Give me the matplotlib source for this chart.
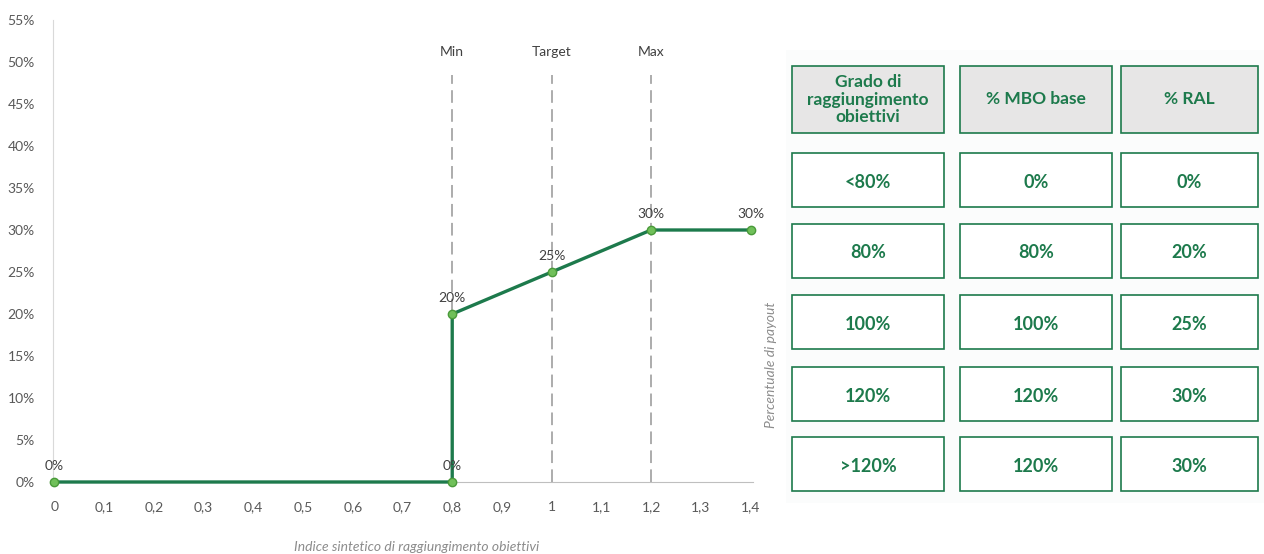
import matplotlib
matplotlib.use("Agg")
import matplotlib.pyplot as plt
from matplotlib.patches import Rectangle
from matplotlib.ticker import FuncFormatter, MultipleLocator

plt.rcParams['font.family'] = ['Lato', 'DejaVu Sans']

# dati della curva di payout
x_vals = [0, 0.8, 0.8, 1.0, 1.2, 1.4]
y_vals = [0, 0, 0.20, 0.25, 0.30, 0.30]
point_labels = ['0%', '0%', '20%', '25%', '30%', '30%']

ref_x = [0.8, 1.0, 1.2]
ref_labels = ['Min', 'Target', 'Max']

# tabella a destra
header = ['Grado di\nraggiungimento\nobiettivi', '% MBO base', '% RAL']
col_grado = ['<80%', '80%', '100%', '120%', '>120%']
col_mbo = ['0%', '80%', '100%', '120%', '120%']
col_ral = ['0%', '20%', '25%', '30%', '30%']

verde = '#1d7a4c'
verde_chiaro = '#70c05a'
grigio = '#595959'

W, H = 1264, 554
fig = plt.figure(figsize=(W / 100, H / 100), dpi=100)

ax = fig.add_axes([53 / W, 1 - 482 / H, 700 / W, 462 / H])
ax.set_xlim(-0.003, 1.405)
ax.set_ylim(0, 0.55)

for xr, lab in zip(ref_x, ref_labels):
    ax.plot([xr, xr], [0, 0.485], color='#a6a6a6', lw=1.3, ls=(0, (7, 3.5)), zorder=1)
    ax.text(xr, 0.512, lab, ha='center', va='center', fontsize=10, color='#404040')

ax.plot(x_vals, y_vals, color=verde, lw=2.4, marker='o', ms=6,
        mfc=verde_chiaro, mec='#4a9a3a', mew=1, zorder=3, clip_on=False)
for xv, yv, lab in zip(x_vals, y_vals, point_labels):
    ax.annotate(lab, (xv, yv), xytext=(0, 7), textcoords='offset points',
                ha='center', va='bottom', fontsize=10, color='#404040')

ax.xaxis.set_major_locator(MultipleLocator(0.1))
ax.yaxis.set_major_locator(MultipleLocator(0.05))
ax.xaxis.set_major_formatter(FuncFormatter(lambda v, p: ('%g' % round(v, 1)).replace('.', ',')))
ax.yaxis.set_major_formatter(FuncFormatter(lambda v, p: '%d%%' % round(v * 100)))
ax.tick_params(length=0, labelsize=10, labelcolor=grigio)
ax.tick_params(axis='x', pad=14)
ax.tick_params(axis='y', pad=13)
for s in ['top', 'right']:
    ax.spines[s].set_visible(False)
ax.spines['left'].set_color('#d9d9d9')
ax.spines['bottom'].set_color('#bfbfbf')

fig.text(417 / W, 1 - 547 / H, 'Indice sintetico di raggiungimento obiettivi',
         ha='center', va='center', fontsize=10, style='italic', color='#8c8c8c')

# pannello tabella in coordinate pixel
tab = fig.add_axes([0, 0, 1, 1])
tab.set_xlim(0, W)
tab.set_ylim(H, 0)
tab.axis('off')
tab.patch.set_alpha(0)

tab.add_patch(Rectangle((786, 50), 478, 453, fc='#fbfcfc', ec='none', zorder=0))
tab.text(771, 365, 'Percentuale di payout', rotation=90, ha='center', va='center',
         fontsize=10, style='italic', color='#8c8c8c')

col_x = [792, 960, 1121]
col_w = [152, 152, 137]
row_y = [153, 224, 295, 367, 437]
row_h = 54
head_y, head_h = 66, 67

for cx, cw, txt in zip(col_x, col_w, header):
    tab.add_patch(Rectangle((cx, head_y), cw, head_h, fc='#e7e6e6', ec=verde, lw=1.2, zorder=1))
    tab.text(cx + cw / 2, head_y + head_h / 2, txt, ha='center', va='center',
             fontsize=12.5, fontweight='bold', color=verde, linespacing=1.1, zorder=2)

for i, ry in enumerate(row_y):
    for cx, cw, col in zip(col_x, col_w, [col_grado, col_mbo, col_ral]):
        tab.add_patch(Rectangle((cx, ry), cw, row_h, fc='white', ec=verde, lw=1.2, zorder=1))
        tab.text(cx + cw / 2, ry + row_h / 2 + 2, col[i], ha='center', va='center',
                 fontsize=13, fontweight='bold', color=verde, zorder=2)

fig.savefig('out.png', dpi=100)
